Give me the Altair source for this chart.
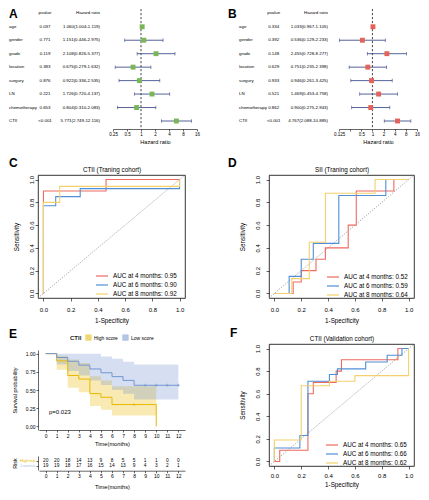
import altair as alt
import pandas as pd

FONT = "Liberation Sans"

# ---------------- Forest plots (A, B) ----------------
VARS = ["age", "gender", "grade", "location", "surgury", "LN", "chemotherapy", "CTII"]
A_P = ["0.037", "0.771", "0.119", "0.383", "0.876", "0.221", "0.653", "<0.001"]
A_HR = [1.060, 1.151, 2.108, 0.675, 0.922, 1.726, 0.804, 5.771]
A_LO = [1.004, 0.446, 0.826, 0.279, 0.336, 0.720, 0.310, 2.749]
A_HI = [1.119, 2.975, 5.377, 1.632, 2.535, 4.137, 2.083, 12.116]
A_TICKS = [0.25, 0.5, 1, 2, 4, 8, 16]

B_P = ["0.334", "0.392", "0.148", "0.629", "0.933", "0.521", "0.862", "<0.001"]
B_HR = [1.033, 0.536, 2.455, 0.751, 0.946, 1.469, 0.900, 4.767]
B_LO = [0.967, 0.129, 0.728, 0.235, 0.261, 0.453, 0.275, 2.088]
B_HI = [1.105, 2.233, 8.277, 2.398, 3.425, 4.758, 2.943, 10.885]
B_TICKS = [0.125, 0.25, 0.5, 1, 2, 4, 8, 16]

REF_HR = [1.0]

# ---------------- ROC curves (C, D, F) ----------------
MONTHS = [4, 6, 8]
ROC_COLORS = ["#EE6A60", "#4F8FD6", "#F3D06C"]

C_AUC = [0.95, 0.90, 0.92]
C_FPR = [[0, 0, 0.46, 0.46, 1],
         [0, 0, 0.09, 0.09, 0.27, 0.27, 1, 1],
         [0, 0, 0.12, 0.12, 1, 1]]
C_TPR = [[0, 0.90, 0.90, 1, 1],
         [0, 0.77, 0.77, 0.85, 0.85, 0.92, 0.92, 1],
         [0, 0.80, 0.80, 0.94, 0.94, 1]]

D_AUC = [0.52, 0.59, 0.64]
D_FPR = [[0, 0.14, 0.14, 0.20, 0.20, 0.31, 0.31, 0.38, 0.38, 0.55, 0.55, 0.61, 0.61, 0.89, 0.89, 1],
         [0, 0.11, 0.11, 0.20, 0.20, 0.29, 0.29, 0.48, 0.48, 0.83, 0.83, 1],
         [0, 0.13, 0.13, 0.26, 0.26, 0.38, 0.38, 0.75, 0.75, 1]]
D_TPR = [[0, 0, 0.10, 0.10, 0.20, 0.20, 0.30, 0.30, 0.40, 0.40, 0.60, 0.60, 0.90, 0.90, 1, 1],
         [0, 0, 0.15, 0.15, 0.30, 0.30, 0.44, 0.44, 0.86, 0.86, 1, 1],
         [0, 0, 0.13, 0.13, 0.45, 0.45, 0.88, 0.88, 1, 1]]

F_AUC = [0.65, 0.66, 0.62]
F_FPR = [[0, 0.04, 0.04, 0.25, 0.25, 0.29, 0.29, 0.46, 0.46, 0.50, 0.50, 0.92, 0.92, 1],
         [0, 0, 0.19, 0.19, 0.25, 0.25, 0.41, 0.41, 0.47, 0.47, 0.68, 0.68, 0.84, 0.84, 0.95, 0.95, 1],
         [0, 0, 0.20, 0.20, 0.41, 0.41, 0.60, 0.60, 1, 1]]
F_TPR = [[0, 0, 0.10, 0.10, 0.60, 0.60, 0.70, 0.70, 0.80, 0.80, 0.90, 0.90, 1, 1],
         [0, 0.12, 0.12, 0.23, 0.23, 0.71, 0.71, 0.77, 0.77, 0.82, 0.82, 0.88, 0.88, 0.94, 0.94, 1, 1],
         [0, 0.19, 0.19, 0.67, 0.67, 0.71, 0.71, 0.76, 0.76, 1]]

DIAG = [-0.04, 1.04]

# ---------------- Kaplan-Meier (E) ----------------
KM_GROUPS = ["High score", "Low score"]
KM_COLORS = ["#E7B800", "#7396D0"]
T_HIGH = [0, 1, 2, 3, 4, 5, 6, 10]
S_HIGH = [1.0, 0.90, 0.70, 0.65, 0.45, 0.40, 0.30, 0.0]
T_LOW = [0, 1, 2, 3, 4, 5, 6, 7, 8, 12]
S_LOW = [1.0, 0.947, 0.895, 0.842, 0.789, 0.737, 0.684, 0.632, 0.565, 0.565]
CI_HIGH_T = [1, 2, 3, 4, 5, 6, 10]
CI_HIGH_LO = [0.78, 0.53, 0.47, 0.28, 0.23, 0.15, 0.15]
CI_HIGH_UP = [0.97, 0.92, 0.87, 0.69, 0.63, 0.55, 0.55]
CI_LOW_T = [1, 2, 3, 4, 5, 6, 7, 8, 12]
CI_LOW_LO = [0.85, 0.76, 0.70, 0.63, 0.57, 0.50, 0.45, 0.37, 0.37]
CI_LOW_UP = [1.0, 1.0, 1.0, 1.0, 0.96, 0.93, 0.89, 0.85, 0.85]
CENS_HIGH = [8]
CENS_LOW = [9, 10, 11, 12]
PVAL_TEXT = ["p=0.023"]
PVAL_AT_T = [0.3]
PVAL_AT_S = [0.2]

RISK_T = list(range(13))
RISK_HIGH = [20, 20, 18, 14, 13, 9, 8, 5, 5, 1, 1, 0, 0]
RISK_LOW = [19, 19, 18, 17, 16, 15, 14, 13, 9, 4, 3, 2, 1]
RISK_GROUPS = ["Highrisk", "Lowrisk"]
RISK_COLORS = ["#E7B800", "#A9C0E8"]

NAVY = "#283A7C"
GREEN = "#79B658"
RED = "#E3625A"


def letter_layer(letter, x, y):
    return alt.Chart(pd.DataFrame({"lab": [letter]})).mark_text(
        align="left", baseline="top", fontSize=12, fontWeight="bold", font=FONT, color="black"
    ).encode(x=alt.value(x), y=alt.value(y), text="lab:N")


def forest_panel(letter, pv, hr, lo, hi, ticks, dom, hr_range, txt_range, w, h, sq_color,
                 letter_x, label_expr=None):
    rows = pd.DataFrame({
        "i": list(range(1, 9)), "var": VARS, "p": pv, "hr": hr, "lo": lo, "hi": hi,
        "hrt": [f"{a:.3f}({b:.3f}-{c:.3f})" for a, b, c in zip(hr, lo, hi)],
    })
    head = pd.DataFrame({"i": [0], "var": [""], "p": ["pvalue"], "hrt": ["Hazard ratio"]})
    tab = pd.concat([head, rows[["i", "var", "p", "hrt"]]], ignore_index=True)
    yenc = alt.Y("i:Q", scale=alt.Scale(domain=[0, 8], range=[4.3, 112], nice=False, zero=False),
                 axis=None)
    cs = alt.Scale(domain=[0, 1, 2], range=txt_range, nice=False, zero=False)

    def col_layer(field, idx, align):
        return alt.Chart(tab).transform_calculate(c=str(idx)).mark_text(
            align=align, baseline="middle", fontSize=4.4, font=FONT, color="black"
        ).encode(x=alt.X("c:Q", scale=cs, axis=None), y=yenc, text=f"{field}:N")

    hs = alt.Scale(type="log", base=2, domain=dom, range=hr_range, nice=False)
    ax_kw = dict(values=ticks, format="~g", title="Hazard ratio", labelFontSize=4.5,
                 titleFontSize=5.6, tickSize=2, labelPadding=0.5, titlePadding=3,
                 domainWidth=0.6, tickWidth=0.6, labelOverlap=False, labelFlush=False,
                 grid=False, orient="bottom")
    if label_expr:
        ax_kw["labelExpr"] = label_expr
    axis = alt.Axis(**ax_kw)

    ref = alt.Chart(pd.DataFrame({"ref": REF_HR})).mark_rule(
        strokeDash=[2.2, 1.8], color="#333333", strokeWidth=0.9
    ).encode(x=alt.X("ref:Q", scale=hs, axis=None))
    bars = alt.Chart(rows).mark_rule(color=NAVY, strokeWidth=0.8).encode(
        x=alt.X("lo:Q", scale=hs, axis=None), x2="hi:Q", y=yenc)
    caps = alt.Chart(rows).transform_fold(["lo", "hi"], as_=["k", "v"]).mark_tick(
        orient="vertical", size=3.5, thickness=0.8, color=NAVY
    ).encode(x=alt.X("v:Q", scale=hs, axis=None), y=yenc)
    sq = alt.Chart(rows).mark_square(size=24, color=sq_color, opacity=1).encode(
        x=alt.X("hr:Q", scale=hs, axis=axis), y=yenc)

    return alt.layer(
        ref, bars, caps, sq,
        col_layer("var", 0, "left"), col_layer("p", 1, "center"), col_layer("hrt", 2, "right"),
        letter_layer(letter, letter_x, 0),
    ).resolve_scale(x="independent").properties(width=w, height=h)


def roc_panel(letter, title, fprs, tprs, aucs, w, h, leg_x, leg_y, letter_x, letter_y,
              lab_pad, tit_pad, ylab_pad):
    labels = [f"AUC at {m} months: {a:.2f}" for m, a in zip(MONTHS, aucs)]
    recs = []
    for lab, fx, ty in zip(labels, fprs, tprs):
        for k, (a, b) in enumerate(zip(fx, ty)):
            recs.append({"curve": lab, "k": k, "fpr": a, "tpr": b})
    df = pd.DataFrame(recs)
    xs = alt.Scale(domain=[-0.04, 1.04], nice=False, zero=False)
    ys = alt.Scale(domain=[-0.04, 1.04], nice=False, zero=False)
    vals = [0, 0.2, 0.4, 0.6, 0.8, 1.0]
    xaxis = alt.Axis(values=vals, format=".1f", title="1-Specificity", orient="bottom",
                     grid=False, domain=False, tickSize=3, tickWidth=0.6,
                     labelFontSize=6, labelPadding=lab_pad, titleFontSize=6.3,
                     titlePadding=tit_pad, labelFlush=False)
    yaxis = alt.Axis(values=vals, format=".1f", title="Sensitivity", grid=False, domain=False,
                     tickSize=3, tickWidth=0.6, labelFontSize=6, labelAngle=-90,
                     labelAlign="center", labelBaseline="bottom", labelPadding=ylab_pad,
                     titleFontSize=6.3, titlePadding=9, labelFlush=False)
    lines = alt.Chart(df).mark_line(strokeWidth=1.1).encode(
        x=alt.X("fpr:Q", scale=xs, axis=xaxis),
        y=alt.Y("tpr:Q", scale=ys, axis=yaxis),
        color=alt.Color("curve:N", scale=alt.Scale(domain=labels, range=ROC_COLORS),
                        legend=alt.Legend(orient="none", legendX=leg_x, legendY=leg_y,
                                          direction="vertical", title=None,
                                          labelFontSize=6.3, labelFont=FONT,
                                          symbolType="M-1.5,0H1.5", symbolSize=64,
                                          symbolStrokeWidth=1.2, labelOffset=6,
                                          rowPadding=0, padding=0, labelLimit=200)),
        order="k:Q")
    diag = alt.Chart(pd.DataFrame({"fpr": DIAG, "tpr": DIAG})).mark_line(
        color="#777777", strokeDash=[1, 1.6], strokeWidth=0.8
    ).encode(
        x=alt.X("fpr:Q", scale=xs, axis=alt.Axis(orient="top", title=title, labels=False,
                                                 ticks=False, domain=False, grid=False,
                                                 titleFontSize=6.3, titlePadding=3)),
        y=alt.Y("tpr:Q", scale=ys, axis=yaxis))
    return alt.layer(diag, lines, letter_layer(letter, letter_x, letter_y)).resolve_axis(
        x="independent").properties(
        width=w, height=h, view=alt.ViewBackground(stroke="black", strokeWidth=0.8))


# ---- build KM panel (with risk table underneath in the same view)
def step_lookup(ts, ss, t):
    val = ss[0]
    for a, b in zip(ts, ss):
        if a <= t:
            val = b
    return val


surv = pd.DataFrame({"grp": [KM_GROUPS[0]] * len(T_HIGH) + [KM_GROUPS[1]] * len(T_LOW),
                     "t": T_HIGH + T_LOW, "s": S_HIGH + S_LOW})
ci = pd.DataFrame({"grp": [KM_GROUPS[0]] * len(CI_HIGH_T) + [KM_GROUPS[1]] * len(CI_LOW_T),
                   "t": CI_HIGH_T + CI_LOW_T, "lo": CI_HIGH_LO + CI_LOW_LO,
                   "up": CI_HIGH_UP + CI_LOW_UP})
cens = pd.DataFrame({
    "grp": [KM_GROUPS[0]] * len(CENS_HIGH) + [KM_GROUPS[1]] * len(CENS_LOW),
    "t": CENS_HIGH + CENS_LOW,
    "s": [step_lookup(T_HIGH[:-1], S_HIGH[:-1], t) for t in CENS_HIGH]
         + [step_lookup(T_LOW, S_LOW, t) for t in CENS_LOW]})
pval = pd.DataFrame({"t": PVAL_AT_T, "s": PVAL_AT_S, "label": PVAL_TEXT})

KM_W, KM_H = 149, 126.7
km_xs = alt.Scale(domain=[-0.6, 12.6], range=[1, 147], nice=False, zero=False)
km_ys = alt.Scale(domain=[-0.05, 1.05], range=[86, 6], nice=False, zero=False)
km_cs = alt.Scale(domain=KM_GROUPS, range=KM_COLORS)
km_xaxis = alt.Axis(values=RISK_T, format="d", title="Time(months)", labelFontSize=5,
                    tickSize=2, tickWidth=0.6, domainWidth=0.6, labelPadding=1,
                    titleFontSize=5.7, titlePadding=2, offset=86 - KM_H, labelFlush=False,
                    grid=False, orient="bottom")
km_yaxis = alt.Axis(values=[0, 0.25, 0.5, 0.75, 1.0], format=".2f", title="Survival probability",
                    labelFontSize=5, tickSize=2, tickWidth=0.6, domainWidth=0.6, labelPadding=1,
                    titleFontSize=5.5, titlePadding=8, labelFlush=False, grid=False,
                    orient="left")
km_leg = alt.Legend(orient="none", legendX=32, legendY=-10, direction="horizontal",
                    title="CTII", titleOrient="left", titleFontSize=6, titleFontWeight="bold",
                    titleColor="#222222", labelFontSize=5, symbolType="square", symbolSize=30,
                    symbolOpacity=0.55, symbolStrokeWidth=0.8, columnPadding=3, labelOffset=2,
                    padding=0, titlePadding=3)

bands = alt.Chart(ci).mark_area(interpolate="step-after", opacity=0.3).encode(
    x=alt.X("t:Q", scale=km_xs, axis=km_xaxis),
    y=alt.Y("lo:Q", scale=km_ys, axis=km_yaxis), y2="up:Q",
    color=alt.Color("grp:N", scale=km_cs, legend=km_leg))
km_lines = alt.Chart(surv).mark_line(interpolate="step-after", strokeWidth=1).encode(
    x=alt.X("t:Q", scale=km_xs, axis=km_xaxis),
    y=alt.Y("s:Q", scale=km_ys, axis=km_yaxis),
    color=alt.Color("grp:N", scale=km_cs, legend=km_leg))
km_cens = alt.Chart(cens).mark_point(shape="M-1,0H1M0,-1V1", size=10, strokeWidth=0.6,
                                     filled=False, opacity=1).encode(
    x=alt.X("t:Q", scale=km_xs, axis=km_xaxis),
    y=alt.Y("s:Q", scale=km_ys, axis=km_yaxis),
    color=alt.Color("grp:N", scale=km_cs, legend=km_leg))
km_p = alt.Chart(pval).mark_text(align="left", baseline="middle", fontSize=6, font=FONT,
                                 color="black").encode(
    x=alt.X("t:Q", scale=km_xs, axis=km_xaxis),
    y=alt.Y("s:Q", scale=km_ys, axis=km_yaxis), text="label:N")
km_core = alt.layer(bands, km_lines, km_cens, km_p)

risk = pd.DataFrame({"t": RISK_T * 2,
                     "grp": [RISK_GROUPS[0]] * 13 + [RISK_GROUPS[1]] * 13,
                     "n": RISK_HIGH + RISK_LOW})
risk_tab = alt.Chart(risk).mark_text(fontSize=4.8, font=FONT, color="black").encode(
    x=alt.X("t:Q", scale=km_xs,
            axis=alt.Axis(values=RISK_T, format="d", title="Time(months)", labelFontSize=5,
                          tickSize=2, tickWidth=0.6, domainWidth=0.6, labelPadding=1,
                          titleFontSize=5.7, titlePadding=5, labelFlush=False, grid=False,
                          orient="bottom")),
    y=alt.Y("grp:N", scale=alt.Scale(domain=RISK_GROUPS, range=[112, 126], padding=0.9),
            axis=alt.Axis(title="Risk", orient="left", labelFontSize=4.4, tickSize=2,
                          tickWidth=0.6, domainWidth=0.6, labelPadding=1, titleFontSize=5.5,
                          titlePadding=2,
                          labelColor={"condition": {"test": "datum.value === 'Highrisk'",
                                                    "value": RISK_COLORS[0]},
                                      "value": RISK_COLORS[1]})),
    text="n:Q")

E = alt.layer(km_core, risk_tab, letter_layer("E", -29, -15)).resolve_scale(
    y="independent").resolve_axis(x="independent", y="independent").properties(
    width=KM_W, height=KM_H)

A = forest_panel("A", A_P, A_HR, A_LO, A_HI, A_TICKS, [0.25, 16], [75, 159], [-29, 7, 62],
                 119, 120, GREEN, -29)
B = forest_panel("B", B_P, B_HR, B_LO, B_HI, B_TICKS, [0.125, 16], [70, 148], [-30, 4.7, 59],
                 150, 120, RED, -41, "datum.value == 0.25 ? '' : datum.label")
C = roc_panel("C", "CTII (Traning cohort)", C_FPR, C_TPR, C_AUC, 147, 123, 59, 96, -29, -17,
              5, 5, 1)
D = roc_panel("D", "SII (Traning cohort)", D_FPR, D_TPR, D_AUC, 145, 123, 59, 97, -41, -17,
              5, 5, 6)
F = roc_panel("F", "CTII (Validation cohort)", F_FPR, F_TPR, F_AUC, 145, 122, 58, 96, -39, -16,
              3, 3, 6)

chart = alt.concat(A, B, C, D, E, F, columns=2,
                   spacing={"row": 46, "column": 82}).properties(
    align="none", bounds="flush", padding=0
).resolve_scale(color="independent").resolve_legend(color="independent").configure(
    font=FONT).configure_view(stroke=None).configure_axis(
    labelFont=FONT, titleFont=FONT, domainColor="black", tickColor="black",
    labelColor="black", titleColor="black", titleFontWeight="normal"
).configure_legend(labelFont=FONT, titleFont=FONT, labelColor="black")

chart.save("out.html", embed_options={"renderer": "svg", "actions": False})
